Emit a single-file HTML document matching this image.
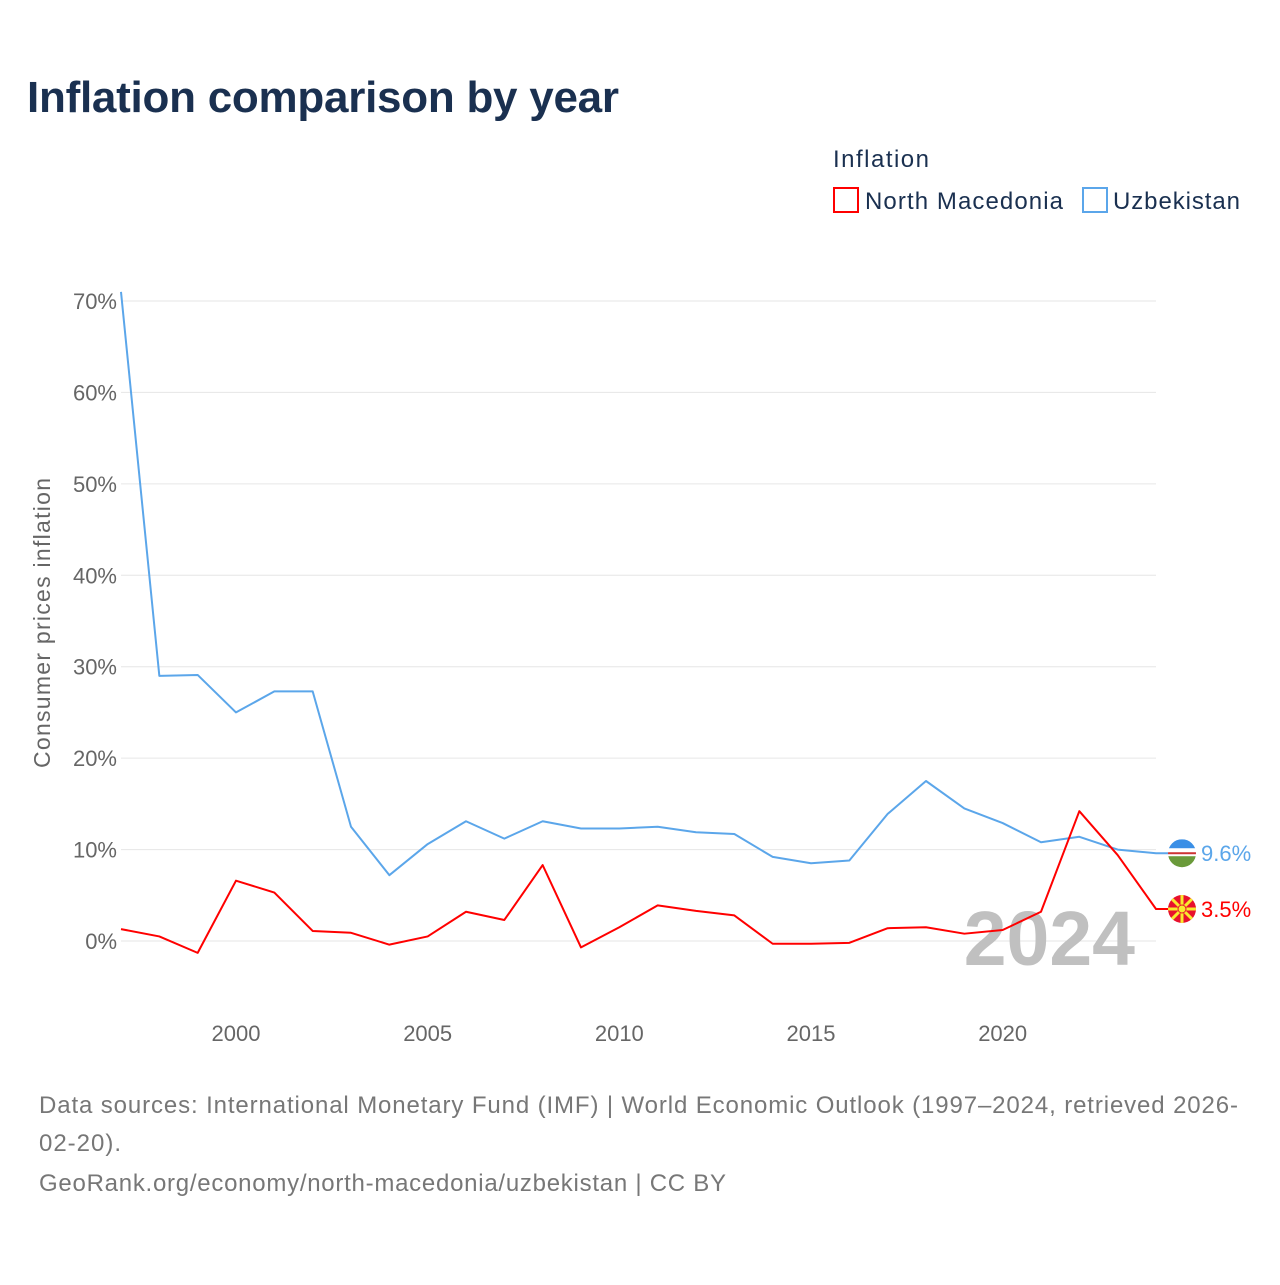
<!DOCTYPE html>
<html><head><meta charset="utf-8"><style>
body{margin:0;background:#fff;width:1280px;height:1280px;overflow:hidden;font-family:"Liberation Sans",sans-serif}
</style></head><body>
<svg id="chart" width="1280" height="1280" xmlns="http://www.w3.org/2000/svg">
<text x="27" y="112" font-size="44" font-weight="bold" fill="#1a3050" textLength="592">Inflation comparison by year</text>
<g>
<text x="833" y="167" font-size="24" fill="#1a3050" textLength="96">Inflation</text>
<g><rect x="834" y="188" width="24" height="24" fill="none" stroke="#ff0000" stroke-width="2"/><text x="865" y="209" font-size="24" fill="#1a3050" textLength="198">North Macedonia</text></g>
<g><rect x="1083" y="188" width="24" height="24" fill="none" stroke="#5ba6ea" stroke-width="2"/><text x="1113" y="209" font-size="24" fill="#1a3050" textLength="127">Uzbekistan</text></g>
</g>
<g id="grid"></g><g id="yticks"></g><g id="xticks"></g>
<text transform="translate(50,623) rotate(-90)" text-anchor="middle" font-size="23" fill="#666" textLength="290">Consumer prices inflation</text>
<text x="1135" y="965" text-anchor="end" font-size="77" font-weight="bold" fill="#c0c0c0">2024</text>
<g id="series"></g>
<g font-size="24" fill="#777">
<text x="39" y="1113" textLength="1199">Data sources: International Monetary Fund (IMF) | World Economic Outlook (1997–2024, retrieved 2026-</text>
<text x="39" y="1151" textLength="82">02-20).</text>
<text x="39" y="1191" textLength="687">GeoRank.org/economy/north-macedonia/uzbekistan | CC BY</text>
</g>
</svg>
<script>
const years=[1997,1998,1999,2000,2001,2002,2003,2004,2005,2006,2007,2008,2009,2010,2011,2012,2013,2014,2015,2016,2017,2018,2019,2020,2021,2022,2023,2024];
const uzbekistan=[71.0,29.0,29.1,25.0,27.3,27.3,12.5,7.2,10.6,13.1,11.2,13.1,12.3,12.3,12.5,11.9,11.7,9.2,8.5,8.8,13.9,17.5,14.5,12.9,10.8,11.4,10.0,9.6];
const northMacedonia=[1.3,0.5,-1.3,6.6,5.3,1.1,0.9,-0.4,0.5,3.2,2.3,8.3,-0.7,1.5,3.9,3.3,2.8,-0.3,-0.3,-0.2,1.4,1.5,0.8,1.2,3.2,14.2,9.4,3.5];
const yTicks=[0,10,20,30,40,50,60,70];
const xTicks=[2000,2005,2010,2015,2020];
const NS="http://www.w3.org/2000/svg";
function X(y){return 121+(y-1997)*(1156-121)/27;}
function Y(v){return 941-v*(941-301)/70;}
function mk(t,a,p){const e=document.createElementNS(NS,t);for(const k in a)e.setAttribute(k,a[k]);p.appendChild(e);return e;}
const grid=document.getElementById('grid'),yt=document.getElementById('yticks'),xt=document.getElementById('xticks'),ser=document.getElementById('series');
yTicks.forEach(v=>{
 const l=mk('line',{x1:121,x2:1156,y1:Y(v),y2:Y(v),stroke:'#e6e6e6','stroke-width':1},grid);
 
 
 const t=mk('text',{x:117,y:Y(v)+8,'text-anchor':'end','font-size':22,fill:'#666'},yt);
 t.textContent=v+'%';
 
 
});
xTicks.forEach(v=>{
 const t=mk('text',{x:X(v),y:1041,'text-anchor':'middle','font-size':22,fill:'#666'},xt);
 t.textContent=v;
 
 
});
function flag(g,cy,kind){
 const cx=1182,r=14;
 const defs=mk('clipPath',{id:'clip-'+kind},g);
 mk('circle',{cx:cx,cy:cy,r:r},defs);
 const fg=mk('g',{'clip-path':'url(#clip-'+kind+')'},g);
 if(kind==='uz'){
  mk('rect',{x:cx-r,y:cy-r,width:2*r,height:2*r,fill:'#fff'},fg);
  mk('rect',{x:cx-r,y:cy-r,width:2*r,height:9,fill:'#3a8fe6'},fg);
  mk('rect',{x:cx-r,y:cy-1,width:2*r,height:2,fill:'#c33'},fg);
  mk('rect',{x:cx-r,y:cy+3,width:2*r,height:12,fill:'#6a9a3a'},fg);
 }else{
  mk('rect',{x:cx-r,y:cy-r,width:2*r,height:2*r,fill:'#e8112d'},fg);
  for(let a=0;a<8;a++){const ang=a*Math.PI/4;
   mk('line',{x1:cx,y1:cy,x2:cx+20*Math.cos(ang),y2:cy+20*Math.sin(ang),stroke:'#f8e92e','stroke-width':3},fg);}
  mk('circle',{cx:cx,cy:cy,r:4,fill:'#f8e92e',stroke:'#e8112d','stroke-width':1},fg);
 }
}
function line(vals,color,name,kind){
 const pts=vals.map((v,i)=>X(years[i])+','+Y(v));
 const last=vals[vals.length-1],ly=Y(last);
 pts.push('1168,'+ly);
 const p=mk('polyline',{points:pts.join(' '),fill:'none',stroke:color,'stroke-width':2,'stroke-linejoin':'round'},ser);
 
 
 const g=mk('g',{},ser);
 
 
 flag(g,ly,kind);
 const t=mk('text',{x:1201,y:ly+8,'font-size':22,fill:color},ser);
 t.textContent=last.toFixed(1)+'%';
 
 
}
line(uzbekistan,'#5ba6ea','uzbekistan-line','uz');
line(northMacedonia,'#ff0000','north-macedonia-line','mk');
</script>
</body></html>
